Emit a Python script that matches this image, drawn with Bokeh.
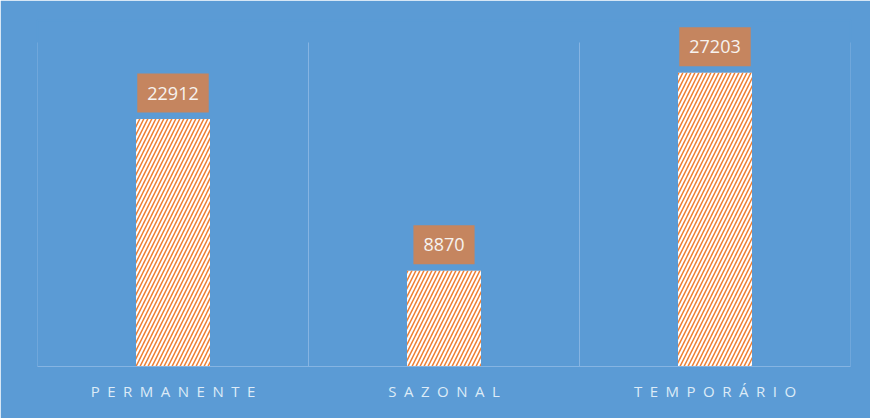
from bokeh.plotting import figure
from bokeh.models import Range1d, FixedTicker, ColumnDataSource, Label
from bokeh.embed import file_html
from bokeh.resources import INLINE

categories = ["PERMANENTE", "SAZONAL", "TEMPORÁRIO"]
values = [22912, 8870, 27203]
axis_max = 30000

xs = [i + 0.5 for i in range(len(categories))]
bounds = list(range(len(categories) + 1))
src = ColumnDataSource(dict(x=xs, top=values))
grid_src = ColumnDataSource(dict(x=bounds, y0=[0] * len(bounds), y1=[axis_max] * len(bounds)))

BG = "#5B9BD5"
GRID = "#86B4E2"
p = figure(width=870, height=418, output_backend="svg", toolbar_location=None,
           x_range=Range1d(0, len(categories)), y_range=Range1d(0, axis_max * 346 / 324),
           min_border_left=37, min_border_right=20, min_border_top=20, min_border_bottom=52)
p.background_fill_color = BG
p.border_fill_color = BG
p.outline_line_color = BG
p.outline_line_width = 2

p.segment(x0="x", y0="y0", x1="x", y1="y1", source=grid_src, line_color=GRID, line_width=1)

p.vbar(x="x", top="top", width=0.273, source=src, fill_color="white", line_color=None,
       hatch_pattern="/", hatch_color="#ED7D31", hatch_scale=8, hatch_weight=1.5)

for x, v in zip(xs, values):
    p.add_layout(Label(x=x, y=v, text=str(v), text_align="center",
                       text_baseline="middle", y_offset=26, text_font="Open Sans",
                       text_font_size="18px", text_color="#F7F3EF",
                       background_fill_color="#C5855F",
                       padding=dict(left=10, right=10, top=13, bottom=13)))

p.yaxis.visible = False
p.ygrid.grid_line_color = None
p.xgrid.grid_line_color = None

p.xaxis.ticker = FixedTicker(ticks=xs)
p.xaxis.major_label_overrides = {x: "\u2002".join(c) for x, c in zip(xs, categories)}
p.xaxis.axis_line_color = GRID
p.xaxis.major_tick_line_color = None
p.xaxis.minor_tick_line_color = None
p.xaxis.major_label_text_color = "#DDEBF7"
p.xaxis.major_label_text_font = "Open Sans"
p.xaxis.major_label_text_font_size = "15px"
p.xaxis.major_label_standoff = 8

open("out.html", "w").write(file_html(p, INLINE))
